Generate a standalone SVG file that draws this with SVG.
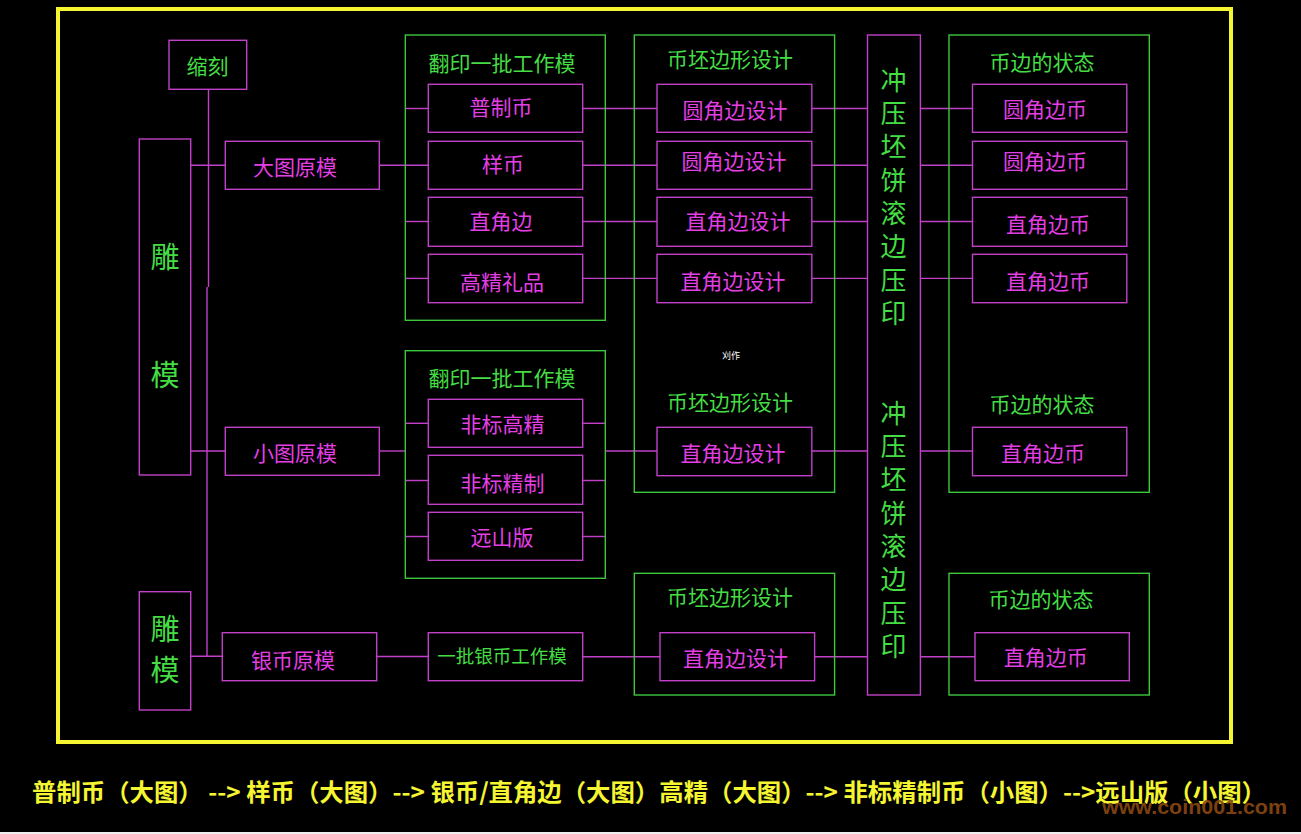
<svg xmlns="http://www.w3.org/2000/svg" width="1301" height="834" viewBox="0 0 1301 834">
<style>
.bg{fill:#000}
.frame{fill:none;stroke:#f5f531;stroke-width:4}
.mb{fill:none;stroke:#c040c8;stroke-width:1.4}
.gb{fill:none;stroke:#3cc83c;stroke-width:1.4}
.ln{fill:none;stroke:#c040c8;stroke-width:1.4}
text{font-family:"Noto Sans CJK SC","Noto Sans",sans-serif;text-anchor:middle}
.mt{fill:#e43fe4;font-size:21px}
.gt{fill:#44dd44;font-size:21px}
.big{fill:#44dd44;font-size:29px}
.vt{fill:#44dd44;font-size:26px;writing-mode:vertical-rl;text-anchor:start;letter-spacing:7.3px}
.small{fill:#44dd44;font-size:18.5px}
.foot{fill:#f5f531;font-size:24px;font-weight:bold;text-anchor:start}
.wm{fill:#8a4812;font-family:"Liberation Sans",Arial,sans-serif;font-size:21px;font-weight:bold;text-anchor:start;opacity:0.9}
</style>
<rect class="bg" x="0" y="0" width="1301" height="834"/>
<rect x="0" y="832" width="1301" height="2" fill="#eeeeee"/>
<rect class="frame" x="58" y="9" width="1173" height="733"/>

<g id="connectors">
<polyline class="ln" points="208.5,89 208.5,287"/>
<polyline class="ln" points="207,287 207,656"/>
<line class="ln" x1="190.7" y1="165.3" x2="225.3" y2="165.3"/>
<line class="ln" x1="379.3" y1="165.3" x2="428.3" y2="165.3"/>
<line class="ln" x1="405.3" y1="108.5" x2="428.3" y2="108.5"/>
<line class="ln" x1="405.3" y1="221.5" x2="428.3" y2="221.5"/>
<line class="ln" x1="405.3" y1="278.4" x2="428.3" y2="278.4"/>
<line class="ln" x1="582.7" y1="108.5" x2="657" y2="108.5"/>
<line class="ln" x1="582.7" y1="165.3" x2="657" y2="165.3"/>
<line class="ln" x1="582.7" y1="221.5" x2="657" y2="221.5"/>
<line class="ln" x1="582.7" y1="278.4" x2="657" y2="278.4"/>
<line class="ln" x1="811.8" y1="108.5" x2="867.5" y2="108.5"/>
<line class="ln" x1="811.8" y1="165.3" x2="867.5" y2="165.3"/>
<line class="ln" x1="811.8" y1="221.5" x2="867.5" y2="221.5"/>
<line class="ln" x1="811.8" y1="278.4" x2="867.5" y2="278.4"/>
<line class="ln" x1="920.4" y1="108.5" x2="972.5" y2="108.5"/>
<line class="ln" x1="920.4" y1="165.3" x2="972.5" y2="165.3"/>
<line class="ln" x1="920.4" y1="221.5" x2="972.5" y2="221.5"/>
<line class="ln" x1="920.4" y1="278.4" x2="972.5" y2="278.4"/>

<line class="ln" x1="190.7" y1="451" x2="225.3" y2="451"/>
<line class="ln" x1="379.3" y1="451" x2="405.3" y2="451"/>
<line class="ln" x1="405.3" y1="423.3" x2="428.3" y2="423.3"/>
<line class="ln" x1="405.3" y1="480.5" x2="428.3" y2="480.5"/>
<line class="ln" x1="405.3" y1="536.5" x2="428.3" y2="536.5"/>
<line class="ln" x1="582.7" y1="423.3" x2="605.3" y2="423.3"/>
<line class="ln" x1="582.7" y1="480.5" x2="605.3" y2="480.5"/>
<line class="ln" x1="582.7" y1="536.5" x2="605.3" y2="536.5"/>
<line class="ln" x1="605.3" y1="451" x2="657" y2="451"/>
<line class="ln" x1="811.8" y1="451" x2="867.5" y2="451"/>
<line class="ln" x1="920.4" y1="451" x2="972.5" y2="451"/>

<line class="ln" x1="190.7" y1="656.3" x2="222.3" y2="656.3"/>
<line class="ln" x1="376.7" y1="656.5" x2="428.3" y2="656.5"/>
<line class="ln" x1="582.7" y1="656.7" x2="660" y2="656.7"/>
<line class="ln" x1="814.6" y1="656.7" x2="867.5" y2="656.7"/>
<line class="ln" x1="920.4" y1="656.7" x2="975" y2="656.7"/>
</g>

<g id="suoke"><rect class="mb" x="169" y="40.3" width="77.7" height="49"/><text class="gt" x="207.5" y="74">缩刻</text></g>
<g id="diaomo1"><rect class="mb" x="139.3" y="139" width="51.4" height="336"/><text class="big" x="165" y="268">雕</text><text class="big" x="165" y="386">模</text></g>
<g id="diaomo2"><rect class="mb" x="139.3" y="591.7" width="51.4" height="118.3"/><text class="big" x="165" y="640">雕</text><text class="big" x="165" y="681">模</text></g>

<g id="datu"><rect class="mb" x="225.3" y="141.3" width="154" height="48"/><text class="mt" x="295" y="175">大图原模</text></g>
<g id="xiaotu"><rect class="mb" x="225.3" y="427.3" width="154" height="48"/><text class="mt" x="295" y="461">小图原模</text></g>
<g id="yinbi"><rect class="mb" x="222.3" y="632.7" width="154.4" height="48"/><text class="mt" x="293" y="668">银币原模</text></g>

<g id="fanyin1"><rect class="gb" x="405.3" y="35" width="200" height="285.3"/><text class="gt" x="502" y="71">翻印一批工作模</text></g>
<g id="puzhibi"><rect class="mb" x="428.3" y="84.3" width="154.4" height="48"/><text class="mt" x="501" y="114.5">普制币</text></g>
<g id="yangbi"><rect class="mb" x="428.3" y="141.3" width="154.4" height="48"/><text class="mt" x="503" y="172">样币</text></g>
<g id="zhijiaobian"><rect class="mb" x="428.3" y="197.3" width="154.4" height="49"/><text class="mt" x="501" y="228.5">直角边</text></g>
<g id="gaojing"><rect class="mb" x="428.3" y="254.3" width="154.4" height="48.4"/><text class="mt" x="502" y="289.5">高精礼品</text></g>

<g id="fanyin2"><rect class="gb" x="405.3" y="350.7" width="200" height="227.6"/><text class="gt" x="502" y="385.5">翻印一批工作模</text></g>
<g id="feibiaogaojing"><rect class="mb" x="428.3" y="399.3" width="154.4" height="48"/><text class="mt" x="502.5" y="432">非标高精</text></g>
<g id="feibiaojingzhi"><rect class="mb" x="428.3" y="455.3" width="154.4" height="49"/><text class="mt" x="502.5" y="491">非标精制</text></g>
<g id="yuanshan"><rect class="mb" x="428.3" y="512.3" width="154.4" height="48"/><text class="mt" x="502" y="544.5">远山版</text></g>
<g id="yipiyinbi"><rect class="mb" x="428.3" y="632.7" width="154.4" height="48"/><text class="small" x="502" y="663">一批银币工作模</text></g>

<g id="bipi1"><rect class="gb" x="634.3" y="35" width="200.3" height="457.3"/><text class="gt" x="730" y="67">币坯边形设计</text><text class="gt" x="730" y="409.5">币坯边形设计</text></g>
<g id="d1"><rect class="mb" x="657" y="84.3" width="154.8" height="48"/><text class="mt" x="735" y="118">圆角边设计</text></g>
<g id="d2"><rect class="mb" x="657" y="141.3" width="154.8" height="48"/><text class="mt" x="734" y="169">圆角边设计</text></g>
<g id="d3"><rect class="mb" x="657" y="197.3" width="154.8" height="49"/><text class="mt" x="738" y="229">直角边设计</text></g>
<g id="d4"><rect class="mb" x="657" y="254.3" width="154.8" height="48.4"/><text class="mt" x="733" y="288.5">直角边设计</text></g>
<g id="d5"><rect class="mb" x="657" y="427.3" width="154.8" height="48.4"/><text class="mt" x="733" y="461">直角边设计</text></g>
<g id="bipi2"><rect class="gb" x="634.3" y="573.3" width="200.3" height="121.7"/><text class="gt" x="730" y="604.5">币坯边形设计</text></g>
<g id="d6"><rect class="mb" x="660" y="632.7" width="154.6" height="48"/><text class="mt" x="735.5" y="666">直角边设计</text></g>

<g id="chongya"><rect class="mb" x="867.5" y="35" width="52.9" height="660"/>
<text class="vt" x="893.6" y="67">冲压坯饼滚边压印</text>
<text class="vt" x="893.6" y="400">冲压坯饼滚边压印</text>
</g>

<g id="zhuangtai1"><rect class="gb" x="949" y="35" width="200.3" height="457.3"/><text class="gt" x="1042" y="69.5">币边的状态</text><text class="gt" x="1042" y="412">币边的状态</text></g>
<g id="s1"><rect class="mb" x="972.5" y="84.3" width="154.3" height="48"/><text class="mt" x="1045" y="117">圆角边币</text></g>
<g id="s2"><rect class="mb" x="972.5" y="141.3" width="154.3" height="48"/><text class="mt" x="1045" y="169">圆角边币</text></g>
<g id="s3"><rect class="mb" x="972.5" y="197.3" width="154.3" height="49"/><text class="mt" x="1048" y="232">直角边币</text></g>
<g id="s4"><rect class="mb" x="972.5" y="254.3" width="154.3" height="48.4"/><text class="mt" x="1048" y="288.5">直角边币</text></g>
<g id="s5"><rect class="mb" x="972.5" y="427.3" width="154.3" height="48.4"/><text class="mt" x="1043" y="461">直角边币</text></g>
<g id="zhuangtai2"><rect class="gb" x="949" y="573.3" width="200.3" height="121.7"/><text class="gt" x="1041" y="607">币边的状态</text></g>
<g id="s6"><rect class="mb" x="975" y="632.7" width="154.3" height="48"/><text class="mt" x="1045.7" y="665">直角边币</text></g>

<text x="731" y="359" style="fill:#ffffff;font-size:9px">刈作</text>

<text class="foot" x="32" y="801" textLength="1234" lengthAdjust="spacingAndGlyphs">普制币（大图） --&gt; 样币（大图）--&gt; 银币/直角边（大图）高精（大图）--&gt; 非标精制币（小图）--&gt;远山版（小图）</text>
<text class="wm" x="1102" y="814" textLength="185" lengthAdjust="spacingAndGlyphs">www.coin001.com</text>
</svg>
